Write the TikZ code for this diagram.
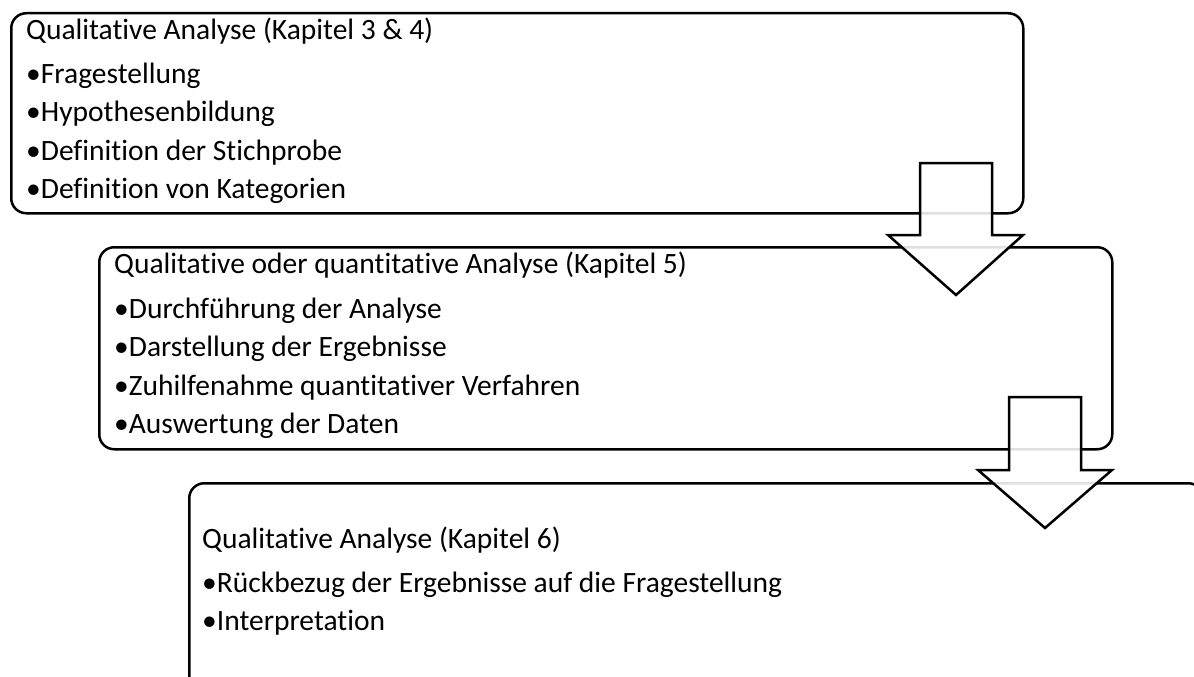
\documentclass[tikz,border=0pt]{standalone}
\usepackage{fontspec}
\setmainfont{Carlito}[Ligatures=CommonOff]
\usetikzlibrary{positioning}

\begin{document}
\begin{tikzpicture}[x=1pt,y=-1pt,
box/.style={draw=black,line width=2.5pt,rounded corners=15pt,anchor=north west,inner sep=0pt},
txt/.style={anchor=north west,align=left,inner sep=0pt,font=\fontsize{29.5}{38.5}\selectfont},
barrow/.style={draw=black,line width=2.5pt,fill=white,fill opacity=0.88,line join=miter}]
\useasboundingbox (0,0) rectangle (1194,677);
\node[box,minimum width=1012pt,minimum height=200pt] (b1) at (10,12) {};
\node[box,minimum width=1013pt,minimum height=202pt] (b2) at (98,246) {};
\node[box,minimum width=1014pt,minimum height=208pt] (b3) at (188,482) {};
\node[txt] (t1) at (26,18) {Qualitative Analyse (Kapitel 3 \& 4)\\[5pt]•Fragestellung\\•Hypothesenbildung\\•Definition der Stichprobe\\•Definition von Kategorien};
\node[txt] (t2) at (114,252) {Qualitative oder quantitative Analyse (Kapitel 5)\\[6pt]•Durchführung der Analyse\\•Darstellung der Ergebnisse\\•Zuhilfenahme quantitativer Verfahren\\•Auswertung der Daten};
\node[txt] (t3) at (202,527) {Qualitative Analyse (Kapitel 6)\\[5pt]•Rückbezug der Ergebnisse auf die Fragestellung\\•Interpretation};
% block arrows between the boxes
\draw[barrow] (920,163) -- (992,163) -- (992,235) -- (1023,235) -- (956,295) -- (888,235) -- (920,235) -- cycle;
\draw[barrow] (1009,397) -- (1081,397) -- (1081,470) -- (1112,470) -- (1045,528) -- (978,470) -- (1009,470) -- cycle;
\end{tikzpicture}
\end{document}
